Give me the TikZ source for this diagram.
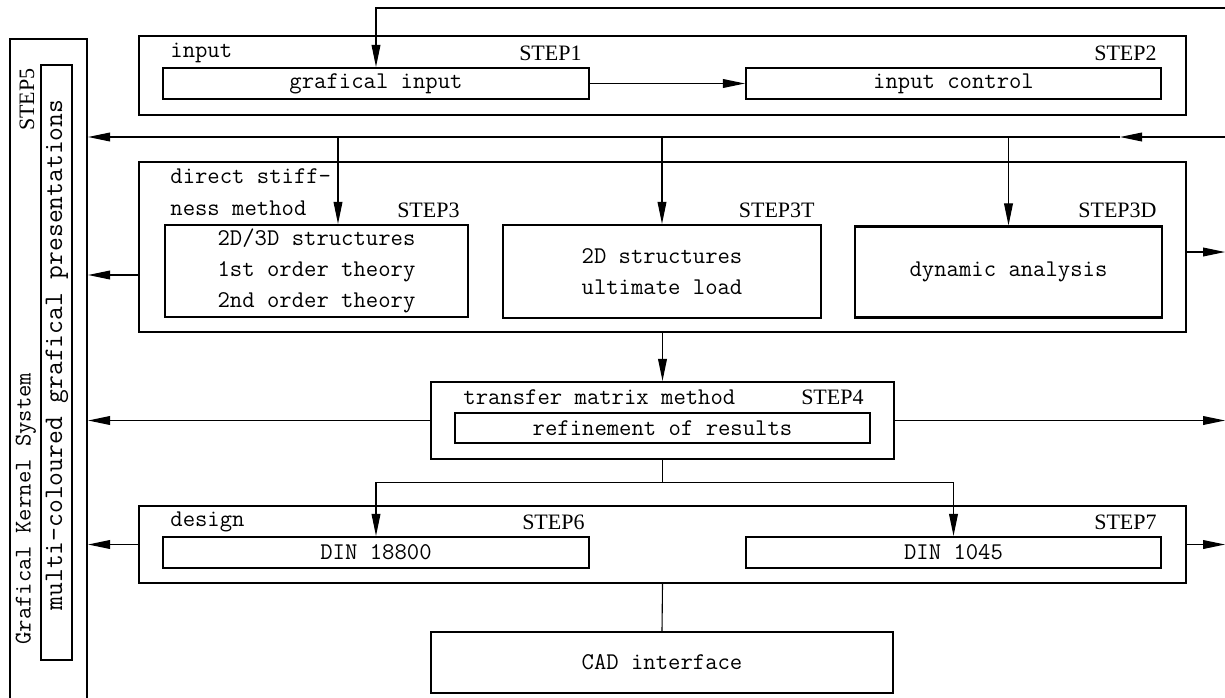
\documentclass[tikz,border=0pt]{standalone}
\usepackage{fontspec}
\setmainfont{Liberation Serif}
\usetikzlibrary{arrows.meta,calc}
\tikzset{
  sz/.style 2 args={minimum width=#1*0.5pt,minimum height=#2*0.5pt},
  frame/.style={draw,line width=1.1pt,inner sep=0pt},
  unit/.style={draw,line width=1.1pt,align=center,inner sep=0pt,
    font=\fontsize{12}{15.5}\selectfont\ttfamily},
  tag/.style={inner sep=0pt,align=left,font=\fontsize{12}{16}\selectfont\ttfamily},
  steptag/.style={inner sep=0pt,anchor=east,font=\fontsize{11}{12}\selectfont},
  flow/.style={-{Triangle[length=11pt,width=4.4pt]},line width=0.55pt},
  link/.style={line width=0.55pt},
}

\begin{document}
\begin{tikzpicture}[x=0.5pt,y=-0.5pt]
  \useasboundingbox (0,0) rectangle (1225,697);
  \coordinate (redge) at (1225,0);

  % graphics kernel column
  \node[frame,sz={77}{671}] (gks) at (48.5,374.5) {};
  \node[frame,sz={31}{595}] (gksin) at (56.5,362.5) {};
  \node[steptag,rotate=90] (step5) at (27,68) {STEP5};
  \node[tag,rotate=90,anchor=west] (gkslbl) at (26,645) {Grafical Kernel System};
  \node[tag,rotate=90,font=\fontsize{13.4}{14}\selectfont\ttfamily] (gksinlbl)
    at (57,355) {multi-coloured grafical presentations};

  % input
  \node[frame,sz={1047}{79}] (inp) at (662.5,75.5) {};
  \node[unit,sz={426}{31}] (ginput) at (376,83.5) {grafical input};
  \node[unit,sz={415}{31}] (ictrl) at (953.5,83.5) {input control};
  \node[tag,anchor=west] (inplbl) at (170,53) {input};
  \node[steptag] (step1) at (582,53) {STEP1};
  \node[steptag] (step2) at (1157,53) {STEP2};

  % direct stiffness method
  \node[frame,sz={1047}{170}] (dsm) at (662.5,247) {};
  \node[unit,sz={303}{92}] (s3) at (316.5,271)
    {2D/3D structures\\1st order theory\\2nd order theory};
  \node[unit,sz={318}{93}] (s3t) at (662,271.5) {2D structures\\ultimate load};
  \node[unit,sz={307}{91}] (s3d) at (1008.5,272) {dynamic analysis};
  \node[tag,anchor=north west] (dsmlbl) at (170,168) {direct stiff-\\ness method};
  \node[steptag] (step3) at (460,210) {STEP3};
  \node[steptag] (step3t) at (815,210) {STEP3T};
  \node[steptag] (step3d) at (1157,210) {STEP3D};

  % transfer matrix method
  \node[frame,sz={463}{77}] (tmm) at (662.5,420.5) {};
  \node[unit,sz={415}{30}] (refine) at (662.5,428) {refinement of results};
  \node[tag,anchor=west] (tmmlbl) at (463,397) {transfer matrix method};
  \node[steptag] (step4) at (864,397) {STEP4};

  % design
  \node[frame,sz={1047}{77}] (design) at (662.5,544.5) {};
  \node[unit,sz={426}{31}] (din18) at (376,552.5) {DIN 18800};
  \node[unit,sz={415}{31}] (din10) at (953.5,552.5) {DIN 1045};
  \node[tag,anchor=west] (deslbl) at (170,522) {design};
  \node[steptag] (step6) at (585,522) {STEP6};
  \node[steptag] (step7) at (1157,522) {STEP7};

  \node[unit,sz={462}{61}] (cad) at (662,662.5) {CAD interface};

  % connectors
  \coordinate (ftop) at (1225,8);
  \draw[flow] (ftop) -| (ginput.north);
  \draw[flow] (ginput) -- (ictrl);

  \coordinate (fback) at (1225,137);
  \coordinate (fbmid) at (1120,137);
  \coordinate (t3) at (338,137);
  \draw[flow] (fback) -- (fbmid);
  \draw[flow] (fbmid) -- (fbmid -| gks.east);
  \draw[flow] (t3) -- (t3 |- s3.north);
  \draw[flow] (s3t.north |- fback) -- (s3t.north);
  \draw[flow] (s3d.north |- fback) -- (s3d.north);

  \draw[flow] ([yshift=-14pt]dsm.west) -- ([yshift=-14pt]dsm.west -| gks.east);
  \draw[flow] ([yshift=-2.5pt]dsm.east) -- ([yshift=-2.5pt]dsm.east -| redge);
  \draw[flow] (dsm.south) -- (tmm.north);

  \draw[flow] (tmm.west) -- (tmm.west -| gks.east);
  \draw[flow] (tmm.east) -- (tmm.east -| redge);
  \coordinate (split) at ($(tmm.south)+(0,22)$);
  \draw[link] (tmm.south) -- (split);
  \draw[flow] (split) -| (din18.north);
  \draw[flow] (split) -| (din10.north);

  \draw[flow] (design.west) -- (design.west -| gks.east);
  \draw[flow] (design.east) -- (design.east -| redge);
  \draw[link] (design.south) -- (cad.north);
\end{tikzpicture}
\end{document}
